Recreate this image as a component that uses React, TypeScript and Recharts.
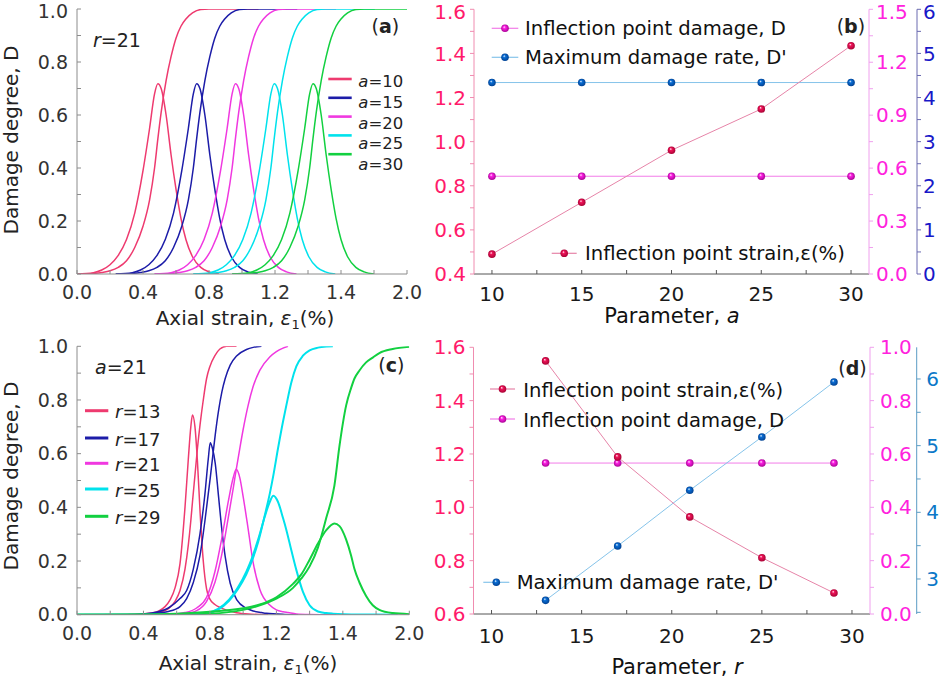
import React from "react";
import { LineChart, Line, XAxis, YAxis } from "recharts";

const FONT = "'DejaVu Sans', Verdana, sans-serif";

// ---------- panel (a): r = 21, parameter a varies ----------
const A_LABELS = ["10", "15", "20", "25", "30"];
const A10_X = [0, 0.1, 0.15, 0.2, 0.25, 0.3, 0.35, 0.4, 0.44, 0.47, 0.49, 0.51, 0.54, 0.57, 0.6, 0.63, 0.66, 0.7, 0.75, 0.8, 0.86, 1.1];
const A15_X = [0.235, 0.335, 0.385, 0.435, 0.485, 0.535, 0.585, 0.635, 0.675, 0.705, 0.725, 0.745, 0.775, 0.805, 0.835, 0.865, 0.895, 0.935, 0.985, 1.035, 1.095, 1.335];
const A20_X = [0.47, 0.57, 0.62, 0.67, 0.72, 0.77, 0.82, 0.87, 0.91, 0.94, 0.96, 0.98, 1.01, 1.04, 1.07, 1.1, 1.13, 1.17, 1.22, 1.27, 1.33, 1.57];
const A25_X = [0.705, 0.805, 0.855, 0.905, 0.955, 1.005, 1.055, 1.105, 1.145, 1.175, 1.195, 1.215, 1.245, 1.275, 1.305, 1.335, 1.365, 1.405, 1.455, 1.505, 1.565, 1.805];
const A30_X = [0.94, 1.04, 1.09, 1.14, 1.19, 1.24, 1.29, 1.34, 1.38, 1.41, 1.43, 1.45, 1.48, 1.51, 1.54, 1.57, 1.6, 1.64, 1.69, 1.74, 1.8, 2.0];
// all five curves in (a) have the same shape, only shifted along the strain axis
const A_DAMAGE = [0, 0.002, 0.006, 0.012, 0.025, 0.05, 0.1, 0.18, 0.28, 0.4, 0.51, 0.61, 0.73, 0.82, 0.89, 0.935, 0.962, 0.985, 0.998, 1.0, 1.0, 1.0];
const A_RATE = [0, 0.005, 0.015, 0.035, 0.07, 0.13, 0.23, 0.39, 0.55, 0.68, 0.718, 0.7, 0.6, 0.45, 0.32, 0.21, 0.13, 0.065, 0.025, 0.008, 0, null];

// ---------- panel (c): a = 21, parameter r varies ----------
const R_LABELS = ["13", "17", "21", "25", "29"];
const R13_X = [0, 0.3, 0.45, 0.53, 0.56, 0.59, 0.62, 0.65, 0.67, 0.685, 0.695, 0.71, 0.725, 0.741, 0.76, 0.78, 0.8, 0.83, 0.86, 0.9, 0.96, 1.05, 1.15];
const R13_D = [0, 0, 0.004, 0.015, 0.028, 0.05, 0.09, 0.17, 0.26, 0.35, 0.42, 0.52, 0.62, 0.71, 0.8, 0.88, 0.925, 0.965, 0.99, 1.0, 1.0, null, null];
const R13_RATE = [0, 0, 0.006, 0.03, 0.055, 0.1, 0.19, 0.4, 0.58, 0.7, 0.744, 0.7, 0.57, 0.38, 0.2, 0.095, 0.058, 0.038, 0.027, 0.017, 0.007, 0.002, 0];
const R17_X = [0, 0.35, 0.45, 0.55, 0.62, 0.66, 0.7, 0.74, 0.77, 0.79, 0.802, 0.815, 0.832, 0.852, 0.872, 0.892, 0.922, 0.962, 1.02, 1.06, 1.11, 1.14, 1.25, 1.33];
const R17_D = [0, 0, 0.004, 0.012, 0.03, 0.06, 0.12, 0.22, 0.35, 0.45, 0.51, 0.58, 0.67, 0.76, 0.83, 0.88, 0.93, 0.965, 0.988, 0.996, 1.0, null, null, null];
const R17_RATE = [0, 0.001, 0.006, 0.025, 0.06, 0.09, 0.17, 0.3, 0.45, 0.58, 0.641, 0.62, 0.564, 0.44, 0.316, 0.216, 0.117, 0.055, 0.024, 0.014, 0.008, 0.005, 0.001, 0];
const R21_X = [0, 0.45, 0.55, 0.65, 0.72, 0.78, 0.83, 0.87, 0.91, 0.94, 0.958, 0.98, 1.0, 1.03, 1.06, 1.1, 1.16, 1.2, 1.24, 1.27, 1.32, 1.4, 1.56];
const R21_D = [0, 0, 0, 0.004, 0.015, 0.05, 0.12, 0.22, 0.36, 0.47, 0.54, 0.62, 0.69, 0.78, 0.85, 0.91, 0.96, 0.98, 0.993, 1.0, null, null, null];
const R21_RATE = [0, 0, 0.001, 0.008, 0.025, 0.065, 0.16, 0.28, 0.42, 0.51, 0.542, 0.51, 0.44, 0.32, 0.195, 0.095, 0.036, 0.018, 0.011, 0.008, 0.003, 0.001, 0];
const R25_X = [0, 0.5, 0.65, 0.74, 0.82, 0.94, 1.04, 1.09, 1.13, 1.16, 1.182, 1.21, 1.24, 1.26, 1.29, 1.32, 1.36, 1.4, 1.45, 1.5, 1.54, 1.7, 1.93];
const R25_D = [0, 0, 0, 0.002, 0.011, 0.07, 0.18, 0.27, 0.37, 0.45, 0.52, 0.62, 0.72, 0.78, 0.865, 0.925, 0.965, 0.985, 0.995, 0.999, 1.0, null, null];
const R25_RATE = [0, 0, 0.001, 0.003, 0.013, 0.075, 0.19, 0.28, 0.365, 0.42, 0.443, 0.42, 0.36, 0.316, 0.24, 0.167, 0.085, 0.035, 0.012, 0.006, 0.004, 0.001, 0];
const R29_X = [0, 0.38, 0.6, 0.8, 1.0, 1.1, 1.2, 1.3, 1.35, 1.4, 1.45, 1.5, 1.549, 1.58, 1.62, 1.65, 1.67, 1.7, 1.74, 1.78, 1.82, 1.9, 2.0];
const R29_D = [0, 0, 0.001, 0.004, 0.018, 0.035, 0.06, 0.1, 0.135, 0.18, 0.25, 0.36, 0.48, 0.63, 0.78, 0.845, 0.88, 0.91, 0.94, 0.958, 0.975, 0.99, 0.998];
const R29_RATE = [0, 0.001, 0.004, 0.011, 0.024, 0.038, 0.065, 0.115, 0.15, 0.205, 0.265, 0.315, 0.34, 0.33, 0.28, 0.22, 0.17, 0.12, 0.07, 0.035, 0.018, 0.006, 0.002];

// ---------- panel (b) ----------
const PARAM_A = [10, 15, 20, 25, 30];
const B_STRAIN = [0.49, 0.725, 0.961, 1.148, 1.435];
const B_DAMAGE = [0.554, 0.554, 0.554, 0.554, 0.554];
const B_RATE = [4.34, 4.34, 4.34, 4.34, 4.34];

// ---------- panel (d) ----------
const PARAM_R = [13, 17, 21, 25, 29];
const D_STRAIN = [1.549, 1.189, 0.964, 0.811, 0.679];
const D_DAMAGE = [0.566, 0.566, 0.566, 0.566, 0.566];
const D_RATE = [2.68, 3.495, 4.33, 5.13, 5.955];

// ---------- ticks ----------
const STRAIN_TICKS = [0, 0.2, 0.4, 0.6, 0.8, 1.0, 1.2, 1.4, 1.6, 1.8, 2.0];
const STRAIN_LABELS = ["0.0", "", "0.4", "", "0.8", "", "1.2", "", "1.4", "", "2.0"];
const DMG_TICKS = [0, 0.1, 0.2, 0.3, 0.4, 0.5, 0.6, 0.7, 0.8, 0.9, 1.0];
const DMG_LABELS = ["0.0", "", "0.2", "", "0.4", "", "0.6", "", "0.8", "", "1.0"];
const PARAM_TICKS = [10, 12.5, 15, 17.5, 20, 22.5, 25, 27.5, 30];
const PARAM_LABELS = ["10", "", "15", "", "20", "", "25", "", "30"];
const B_LEFT_TICKS = [0.4, 0.5, 0.6, 0.7, 0.8, 0.9, 1.0, 1.1, 1.2, 1.3, 1.4, 1.5, 1.6];
const B_LEFT_LABELS = ["0.4", "", "0.6", "", "0.8", "", "1.0", "", "1.2", "", "1.4", "", "1.6"];
const B_MID_TICKS = [0, 0.15, 0.3, 0.45, 0.6, 0.75, 0.9, 1.05, 1.2, 1.35, 1.5];
const B_MID_LABELS = ["0.0", "", "0.3", "", "0.6", "", "0.9", "", "1.2", "", "1.5"];
const B_RIGHT_TICKS = [0, 0.5, 1, 1.5, 2, 2.5, 3, 3.5, 4, 4.5, 5, 5.5, 6];
const B_RIGHT_LABELS = ["0", "", "1", "", "2", "", "3", "", "4", "", "5", "", "6"];
const D_LEFT_TICKS = [0.6, 0.7, 0.8, 0.9, 1.0, 1.1, 1.2, 1.3, 1.4, 1.5, 1.6];
const D_LEFT_LABELS = ["0.6", "", "0.8", "", "1.0", "", "1.2", "", "1.4", "", "1.6"];
const D_MID_TICKS = [0, 0.1, 0.2, 0.3, 0.4, 0.5, 0.6, 0.7, 0.8, 0.9, 1.0];
const D_MID_LABELS = ["0.0", "", "0.2", "", "0.4", "", "0.6", "", "0.8", "", "1.0"];
const D_RIGHT_TICKS = [2.5, 3, 3.5, 4, 4.5, 5, 5.5, 6];
const D_RIGHT_LABELS = ["", "3", "", "4", "", "5", "", "6"];

const CURVE_COLORS = ["#ee3a6f", "#1c1ca8", "#f038e0", "#00e2ec", "#12d040"];
const RED = "#f0145a";
const MAG = "#ff22e6";
const BLUE = "#0b6fd6";
const PAD = 10; // extra room above each chart

const fmt = (ticks: number[], labels: string[]) => (v: number) => labels[ticks.indexOf(v)] ?? "";

// y-axis tick text; minY keeps the topmost label inside the page
const yTick = (ticks: number[], labels: string[], size: number, fill: string, minY: number) => (p: any) => (
  <text x={p.x} y={Math.max(p.y, minY)} dy="0.355em" textAnchor={p.textAnchor} fontSize={size} fill={fill} fontFamily={FONT}>
    {labels[ticks.indexOf(p.payload.value)] ?? ""}
  </text>
);

const zip = (xs: number[], d: (number | null)[], rate: (number | null)[]) =>
  xs.map((x, i) => ({ x, d: d[i], rate: rate[i] }));

const A_CURVES = [A10_X, A15_X, A20_X, A25_X, A30_X].map((xs, i) => ({
  label: A_LABELS[i],
  color: CURVE_COLORS[i],
  width: 1.5,
  data: zip(xs, A_DAMAGE, A_RATE),
}));

const C_CURVES = [
  zip(R13_X, R13_D, R13_RATE),
  zip(R17_X, R17_D, R17_RATE),
  zip(R21_X, R21_D, R21_RATE),
  zip(R25_X, R25_D, R25_RATE),
  zip(R29_X, R29_D, R29_RATE),
].map((data, i) => ({ label: R_LABELS[i], color: CURVE_COLORS[i], width: i < 3 ? 1.5 : 2, data }));

const ball = (id: string) => (props: any) => {
  const { cx, cy, index } = props;
  if (cx == null || cy == null) return <g key={`${id}-${index}`} />;
  return <circle key={`${id}-${index}`} cx={cx} cy={cy} r={3.8} fill={`url(#${id})`} />;
};

const StrainPanel = ({ top, height, margin, xTickMargin, curves, minY }: any) => (
  <div style={{ position: "absolute", left: 0, top: top - PAD }}>
    <LineChart width={435} height={height + PAD} margin={{ ...margin, top: margin.top + PAD, right: margin.right + 15 }}>
      <XAxis
        type="number"
        dataKey="x"
        domain={[0, 2]}
        allowDataOverflow
        ticks={STRAIN_TICKS}
        interval={0}
        height={30}
        stroke="#8c8c8c"
        tickSize={-4}
        tickMargin={xTickMargin}
        tick={{ fontSize: 19, fill: "#333", fontFamily: FONT }}
        tickFormatter={fmt(STRAIN_TICKS, STRAIN_LABELS)}
      />
      <XAxis xAxisId="top" orientation="top" type="number" domain={[0, 2]} height={0} tick={false} tickLine={false} stroke="#9a9a9a" />
      <YAxis
        type="number"
        domain={[0, 1]}
        allowDataOverflow
        ticks={DMG_TICKS}
        interval={0}
        width={77}
        stroke="#8c8c8c"
        tickSize={-4}
        tickMargin={13}
        tick={yTick(DMG_TICKS, DMG_LABELS, 19, "#333", minY)}
      />
      <YAxis yAxisId="frame" orientation="right" type="number" domain={[0, 1]} width={0} tick={false} tickLine={false} stroke="#9a9a9a" />
      {curves.flatMap((c: any) => [
        <Line key={`d${c.label}`} data={c.data} dataKey="d" type="monotone" stroke={c.color} strokeWidth={c.width} dot={false} activeDot={false} isAnimationActive={false} />,
        <Line key={`r${c.label}`} data={c.data} dataKey="rate" type="monotone" stroke={c.color} strokeWidth={c.width} dot={false} activeDot={false} isAnimationActive={false} />,
      ])}
    </LineChart>
  </div>
);

const ParamPanel = (props: any) => {
  const { top, height, margin, leftW, midW, rightW, xTickMargin, params, strain, damage, rate, left, mid, right, rightColor, rightAxisColor, topColor, midMargin, rightMargin, minY } = props;
  const data = params.map((p: number, i: number) => ({ p, strain: strain[i], damage: damage[i], rate: rate[i] }));
  return (
    <div style={{ position: "absolute", left: 420, top: top - PAD }}>
      <LineChart width={521} height={height + PAD} margin={{ ...margin, top: margin.top + PAD }} data={data}>
        <XAxis
          type="number"
          dataKey="p"
          domain={[9, 31]}
          allowDataOverflow
          ticks={PARAM_TICKS}
          interval={0}
          height={30}
          stroke="#555"
          tickSize={-4}
          tickMargin={xTickMargin}
          tick={{ fontSize: 20, fill: "#1a1a1a", fontFamily: FONT }}
          tickFormatter={fmt(PARAM_TICKS, PARAM_LABELS)}
        />
        <XAxis xAxisId="top" orientation="top" type="number" domain={[9, 31]} ticks={PARAM_TICKS} interval={0} height={0} tickSize={-4} stroke={topColor} tickFormatter={() => ""} />
        <YAxis
          yAxisId="l"
          type="number"
          domain={left.domain}
          allowDataOverflow
          ticks={left.ticks}
          interval={0}
          width={leftW}
          stroke="#f08cb0"
          tickSize={4}
          tickMargin={4}
          tick={yTick(left.ticks, left.labels, 20, "#ff1a6a", minY)}
        />
        <YAxis
          yAxisId="r1"
          orientation="right"
          type="number"
          domain={mid.domain}
          allowDataOverflow
          ticks={mid.ticks}
          interval={0}
          width={midW}
          stroke="#f0a0ee"
          tickSize={4}
          tickMargin={midMargin}
          tick={yTick(mid.ticks, mid.labels, 20, "#ff22dd", minY)}
        />
        <YAxis
          yAxisId="r2"
          orientation="right"
          type="number"
          domain={right.domain}
          allowDataOverflow
          ticks={right.ticks}
          interval={0}
          width={rightW}
          stroke={rightAxisColor}
          tickSize={4}
          tickMargin={rightMargin}
          tick={yTick(right.ticks, right.labels, 20, rightColor, minY)}
        />
        <Line yAxisId="r1" dataKey="damage" type="linear" stroke="#f27ce8" strokeWidth={1} dot={ball("ballMag")} activeDot={false} isAnimationActive={false} />
        <Line yAxisId="r2" dataKey="rate" type="linear" stroke="#86c4ea" strokeWidth={1} dot={ball("ballBlue")} activeDot={false} isAnimationActive={false} />
        <Line yAxisId="l" dataKey="strain" type="linear" stroke="#e684a8" strokeWidth={1} dot={ball("ballRed")} activeDot={false} isAnimationActive={false} />
      </LineChart>
    </div>
  );
};

const Grad = ({ id, base, dark }: any) => (
  <radialGradient id={id} cx="50%" cy="50%" r="55%" fx="38%" fy="32%">
    <stop offset="0%" stopColor="#ffffff" />
    <stop offset="30%" stopColor={base} />
    <stop offset="100%" stopColor={dark} />
  </radialGradient>
);

const LegendRow = ({ x1, x2, y, line, ball: b, tx, ty, children }: any) => (
  <g>
    <line x1={x1} x2={x2} y1={y} y2={y} stroke={line} strokeWidth={1.2} />
    <circle cx={(x1 + x2) / 2} cy={y} r={3.8} fill={`url(#${b})`} />
    <text x={tx} y={ty} fontSize={19.6} fill="#111">{children}</text>
  </g>
);

const Overlay = () => (
  <svg width={941} height={679} style={{ position: "absolute", left: 0, top: 0, pointerEvents: "none" }} fontFamily={FONT}>
    <defs>
      <Grad id="ballRed" base={RED} dark="#a00030" />
      <Grad id="ballMag" base={MAG} dark="#a0008c" />
      <Grad id="ballBlue" base={BLUE} dark="#003c8a" />
    </defs>

    {/* panel (a) */}
    <text x={245} y={325} textAnchor="middle" fontSize={20} fill="#222">
      Axial strain, <tspan fontStyle="italic">ε</tspan><tspan fontSize={13} dy={4}>1</tspan><tspan dy={-4}>(%)</tspan>
    </text>
    <text transform="translate(18,140) rotate(-90)" textAnchor="middle" fontSize={20} fill="#222">Damage degree, D</text>
    <text x={93} y={46.5} fontSize={19} fill="#222"><tspan fontStyle="italic">r</tspan>=21</text>
    <text x={371.5} y={33} fontSize={19} fill="#222">(<tspan fontWeight="bold">a</tspan>)</text>
    {A_CURVES.map((c, i) => (
      <g key={`la${i}`}>
        <line x1={328.3} x2={351.7} y1={79 + i * 18.8} y2={79 + i * 18.8} stroke={c.color} strokeWidth={2.6} />
        <text x={358.3} y={87.3 + i * 20.7} fontSize={16.5} fill="#222"><tspan fontStyle="italic">a</tspan>={c.label}</text>
      </g>
    ))}

    {/* panel (c) */}
    <text x={248} y={670} textAnchor="middle" fontSize={20} fill="#222">
      Axial strain, <tspan fontStyle="italic">ε</tspan><tspan fontSize={13} dy={4}>1</tspan><tspan dy={-4}>(%)</tspan>
    </text>
    <text transform="translate(18,476) rotate(-90)" textAnchor="middle" fontSize={20} fill="#222">Damage degree, D</text>
    <text x={95} y={374} fontSize={19} fill="#222"><tspan fontStyle="italic">a</tspan>=21</text>
    <text x={378.3} y={372} fontSize={19} fill="#222">(<tspan fontWeight="bold">c</tspan>)</text>
    {C_CURVES.map((c, i) => {
      const y = [410.7, 438, 463.3, 489, 516.3][i];
      return (
        <g key={`lc${i}`}>
          <line x1={85} x2={108.3} y1={y} y2={y} stroke={c.color} strokeWidth={3} />
          <text x={115} y={y + 7.6} fontSize={18} fill="#222"><tspan fontStyle="italic">r</tspan>={c.label}</text>
        </g>
      );
    })}

    {/* panel (b) */}
    <text x={672} y={323.3} textAnchor="middle" fontSize={21} fill="#111">Parameter, <tspan fontStyle="italic">a</tspan></text>
    <text x={836.7} y={33} fontSize={19} fill="#222">(<tspan fontWeight="bold">b</tspan>)</text>
    <LegendRow x1={491.7} x2={518.3} y={28.3} line="#f27ce8" ball="ballMag" tx={525} ty={35}>Inflection point damage, D</LegendRow>
    <LegendRow x1={491.7} x2={518.3} y={57.3} line="#86c4ea" ball="ballBlue" tx={525} ty={64}>Maximum damage rate, D'</LegendRow>
    <LegendRow x1={551.7} x2={576.7} y={253.3} line="#e684a8" ball="ballRed" tx={585} ty={260}>Inflection point strain,ε(%)</LegendRow>

    {/* panel (d) */}
    <text x={677} y={674} textAnchor="middle" fontSize={21} fill="#111">Parameter, <tspan fontStyle="italic">r</tspan></text>
    <text x={838.3} y={375} fontSize={19} fill="#222">(<tspan fontWeight="bold">d</tspan>)</text>
    <LegendRow x1={490} x2={515} y={389} line="#e684a8" ball="ballRed" tx={523.3} ty={397}>Inflection point strain,ε(%)</LegendRow>
    <LegendRow x1={490} x2={515} y={419} line="#f27ce8" ball="ballMag" tx={523.3} ty={427}>Inflection point damage, D</LegendRow>
    <LegendRow x1={483.3} x2={509.3} y={582.3} line="#86c4ea" ball="ballBlue" tx={516.7} ty={589}>Maximum damage rate, D'</LegendRow>
  </svg>
);

export default function App() {
  return (
    <div style={{ position: "fixed", left: 0, top: 0, width: 941, height: 679, background: "#fff", fontFamily: FONT, overflow: "hidden" }}>
      <StrainPanel top={0} height={339} margin={{ top: 9, right: 13, bottom: 35, left: 0 }} xTickMargin={16} curves={A_CURVES} minY={PAD + 11.2} />
      <StrainPanel top={339} height={340} margin={{ top: 7.3, right: 10.7, bottom: 34.3, left: 0 }} xTickMargin={16} curves={C_CURVES} minY={0} />
      <ParamPanel
        top={0}
        height={339}
        margin={{ top: 9.3, right: 0, bottom: 35, left: 0 }}
        leftW={54}
        midW={48}
        rightW={24}
        xTickMargin={17}
        params={PARAM_A}
        strain={B_STRAIN}
        damage={B_DAMAGE}
        rate={B_RATE}
        left={{ domain: [0.4, 1.6], ticks: B_LEFT_TICKS, labels: B_LEFT_LABELS }}
        mid={{ domain: [0, 1.5], ticks: B_MID_TICKS, labels: B_MID_LABELS }}
        right={{ domain: [0, 6], ticks: B_RIGHT_TICKS, labels: B_RIGHT_LABELS }}
        rightColor="#1818c8"
        rightAxisColor="#6a6ab0"
        topColor="#666"
        midMargin={3}
        rightMargin={2}
        minY={PAD + 11.8}
      />
      <ParamPanel
        top={339}
        height={340}
        margin={{ top: 8.3, right: 0, bottom: 35, left: 0 }}
        leftW={53.5}
        midW={46.7}
        rightW={24.3}
        xTickMargin={19}
        params={PARAM_R}
        strain={D_STRAIN}
        damage={D_DAMAGE}
        rate={D_RATE}
        left={{ domain: [0.6, 1.6], ticks: D_LEFT_TICKS, labels: D_LEFT_LABELS }}
        mid={{ domain: [0, 1], ticks: D_MID_TICKS, labels: D_MID_LABELS }}
        right={{ domain: [2.475, 6.475], ticks: D_RIGHT_TICKS, labels: D_RIGHT_LABELS }}
        rightColor="#0b78c8"
        rightAxisColor="#5a9cc4"
        topColor="#a4a4dc"
        midMargin={6}
        rightMargin={5.5}
        minY={0}
      />
      <Overlay />
    </div>
  );
}
